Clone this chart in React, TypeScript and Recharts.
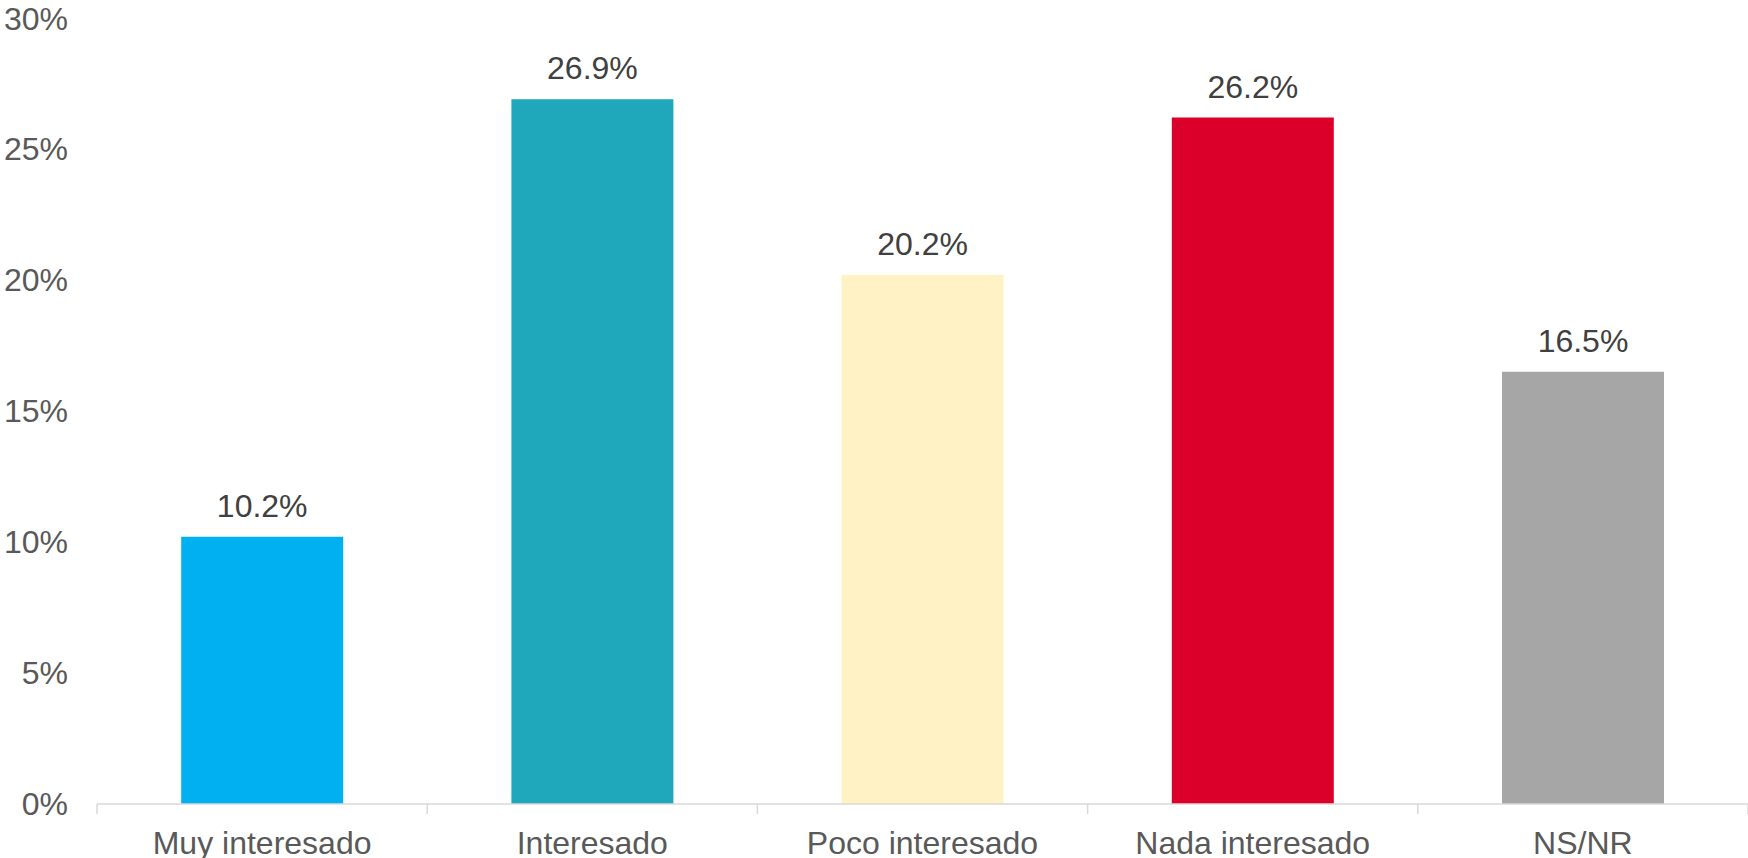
import { BarChart, Bar, XAxis, YAxis, Cell, LabelList } from 'recharts';

const categories = ['Muy interesado', 'Interesado', 'Poco interesado', 'Nada interesado', 'NS/NR'];
const values = [10.2, 26.9, 20.2, 26.2, 16.5];
const barColors = ['#00B0F0', '#1FA7BC', '#FFF2C4', '#DA0029', '#A6A6A6'];
const yTicks = [0, 5, 10, 15, 20, 25, 30];

const WIDTH = 1748;
const HEIGHT = 858;
const Y_AXIS_W = 97;
const BAND_HALF = (WIDTH - Y_AXIS_W) / categories.length / 2;
const FONT = 'Arial, "Liberation Sans", sans-serif';
const FONT_SIZE = 32;

const chartData = categories.map((name, i) => ({ name, value: values[i], color: barColors[i] }));

function CategoryTick(props: any) {
  const { x, y, payload, index } = props;
  return (
    <g>
      <line x1={x - BAND_HALF} x2={x - BAND_HALF} y1={y} y2={y + 10} stroke="#D9D9D9" strokeWidth={1.5} />
      {index === categories.length - 1 && (
        <line x1={x + BAND_HALF} x2={x + BAND_HALF} y1={y} y2={y + 10} stroke="#D9D9D9" strokeWidth={1.5} />
      )}
      <text x={x} y={y + 50} textAnchor="middle" fill="#595959" fontSize={FONT_SIZE} fontFamily={FONT}>
        {payload.value}
      </text>
    </g>
  );
}

export default function App() {
  return (
    <div style={{ position: 'absolute', left: 0, top: 0, background: '#fff' }}>
      <BarChart
        width={WIDTH}
        height={HEIGHT}
        data={chartData}
        margin={{ top: 18, right: 0, left: 0, bottom: 0 }}
        barCategoryGap="25.5%"
      >
        <XAxis
          dataKey="name"
          height={54}
          axisLine={{ stroke: '#D9D9D9', strokeWidth: 1.5 }}
          tickLine={false}
          tickSize={0}
          tickMargin={0}
          interval={0}
          tick={<CategoryTick />}
        />
        <YAxis
          width={Y_AXIS_W}
          domain={[0, 30]}
          ticks={yTicks}
          axisLine={false}
          tickLine={false}
          tickSize={0}
          tickMargin={29}
          tickFormatter={(v: number) => `${v}%`}
          tick={{ fill: '#595959', fontSize: FONT_SIZE, fontFamily: FONT }}
        />
        <Bar dataKey="value" isAnimationActive={false}>
          {chartData.map((d) => (
            <Cell key={d.name} fill={d.color} />
          ))}
          <LabelList
            dataKey="value"
            position="top"
            offset={20}
            formatter={(v: number) => `${v.toFixed(1)}%`}
            style={{ fill: '#404040', fontSize: FONT_SIZE, fontFamily: FONT }}
          />
        </Bar>
      </BarChart>
    </div>
  );
}
